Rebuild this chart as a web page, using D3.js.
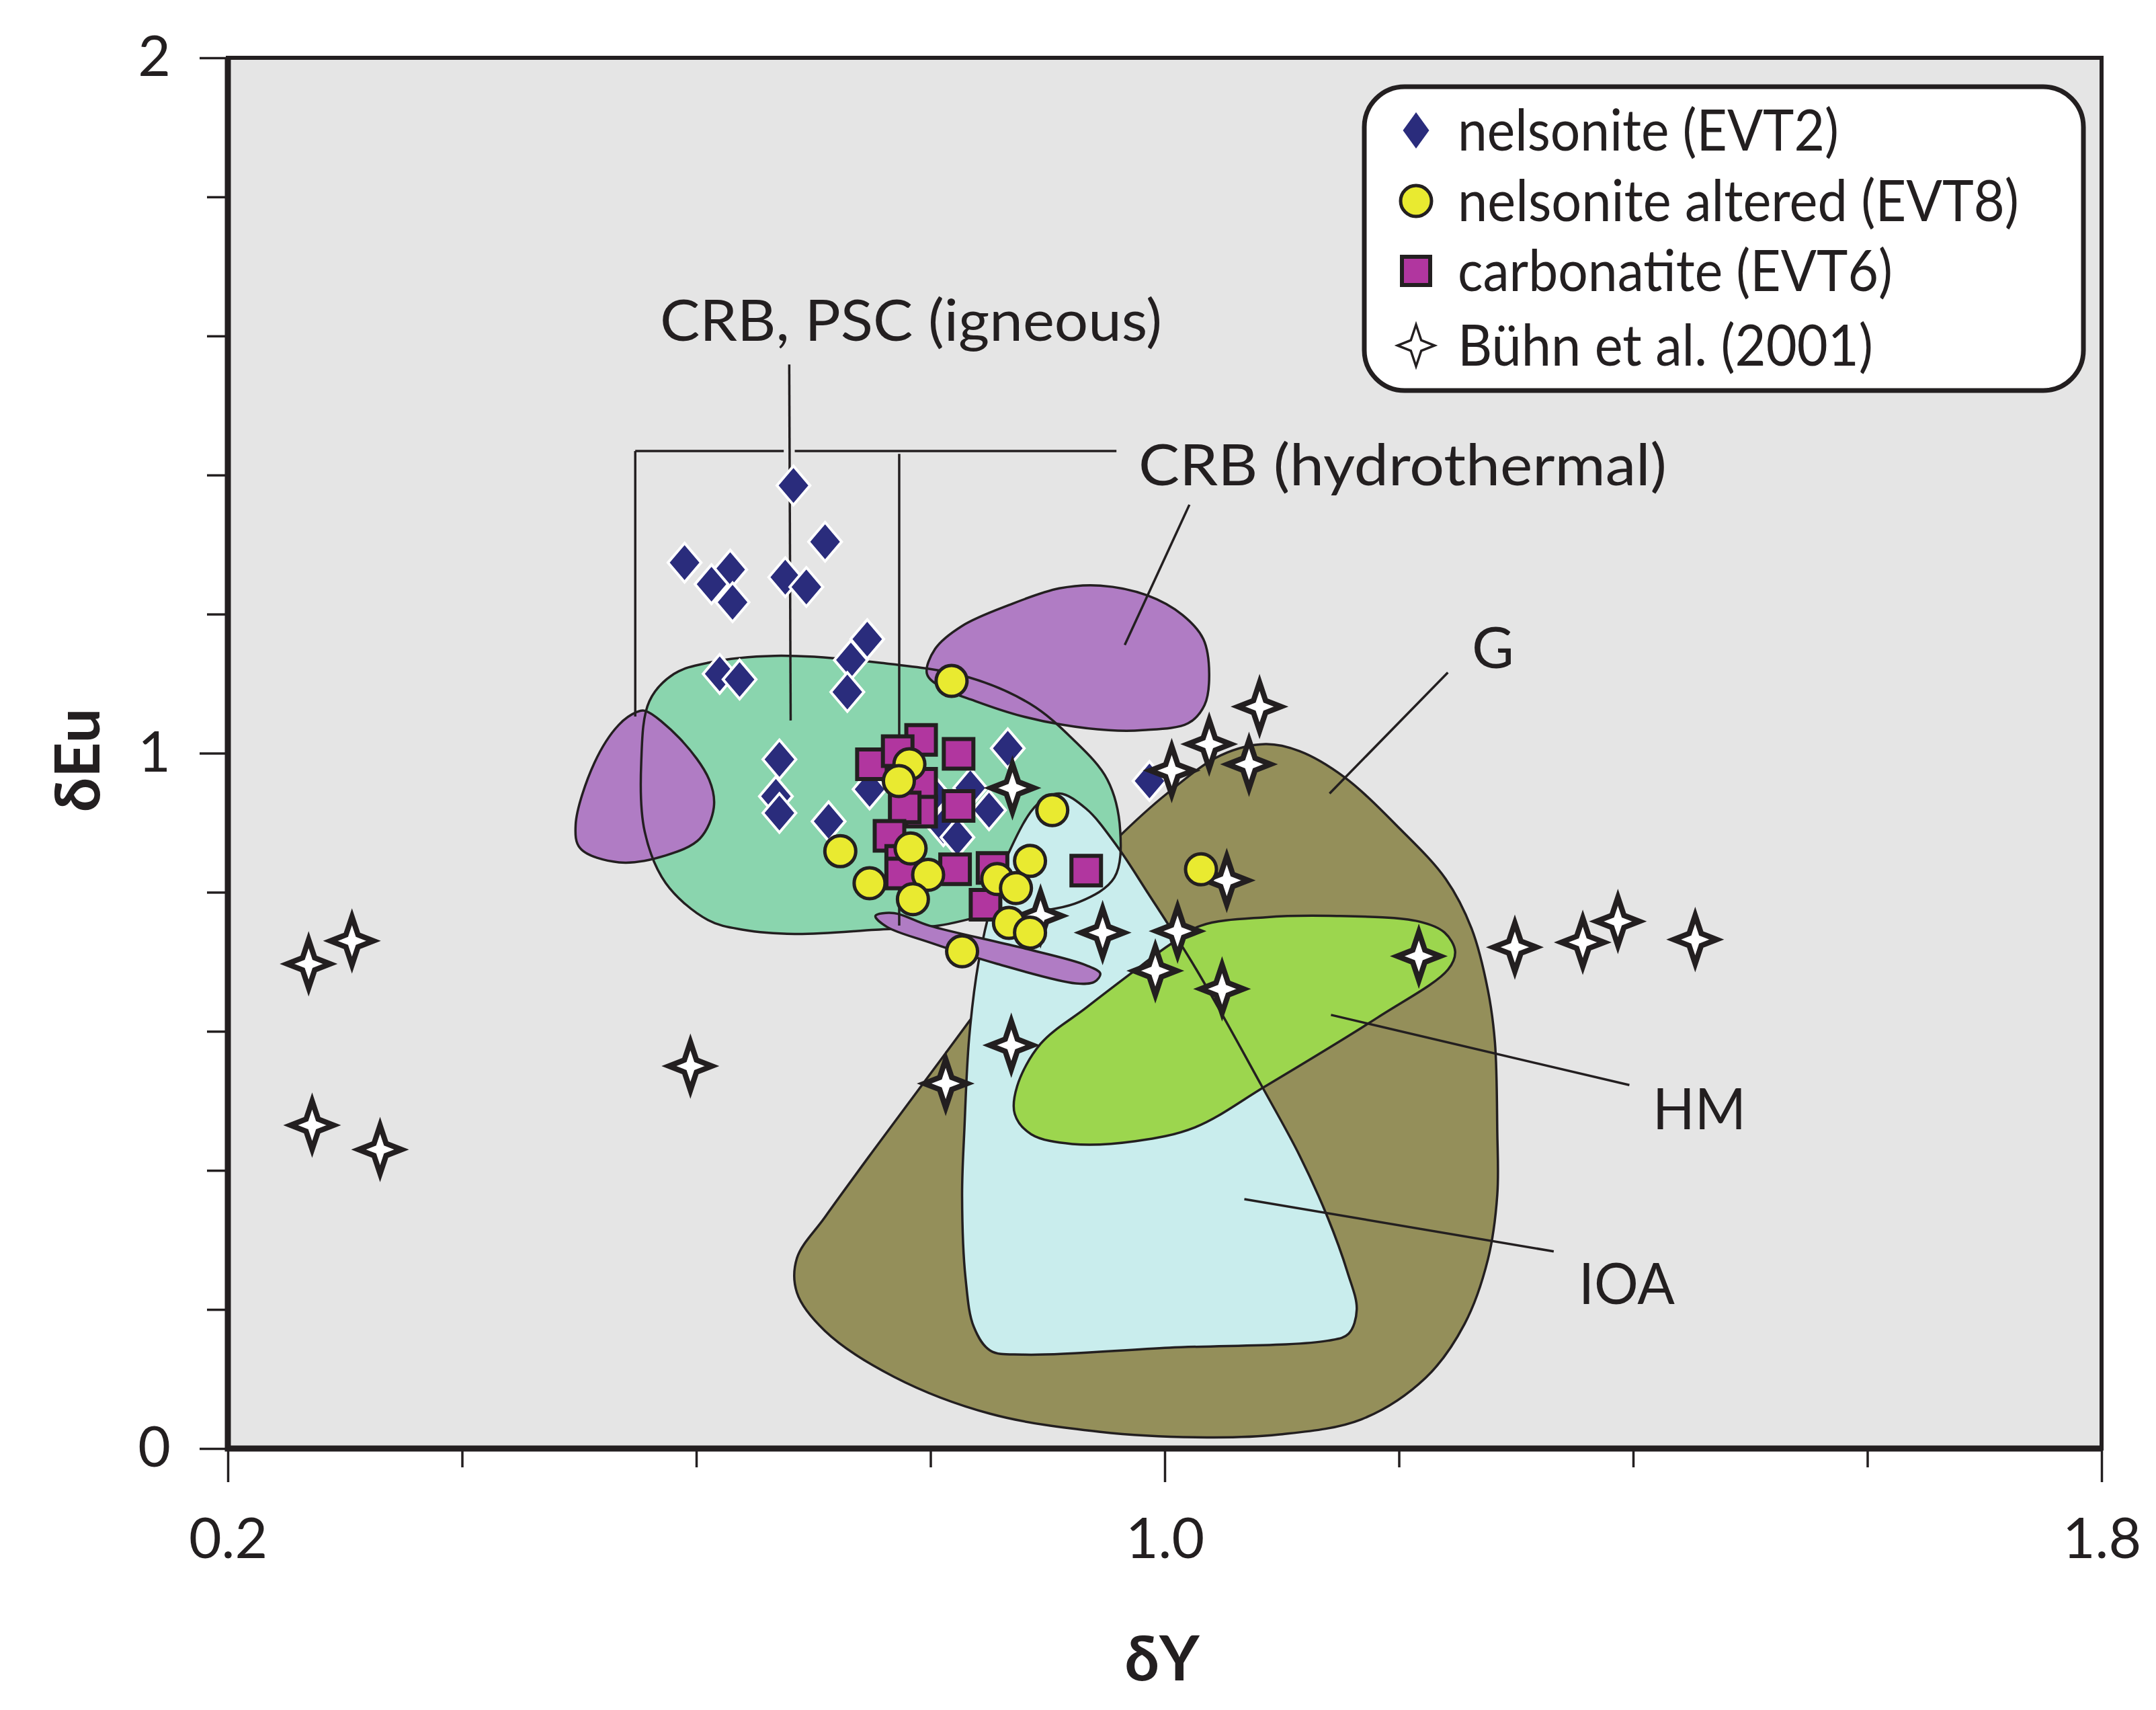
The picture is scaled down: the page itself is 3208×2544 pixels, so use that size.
<!DOCTYPE html>
<html><head><meta charset="utf-8">
<script src="https://cdn.jsdelivr.net/npm/d3@7"></script>
<style>html,body{margin:0;padding:0;background:#fff;} svg{display:block;}</style>
</head><body>
<svg id="chart" width="3208" height="2544"></svg>
<script>
// ---------------- DATA (δY, δEu) ----------------
const nelsoniteEVT2 = [
  [0.683,1.385],[0.710,1.304],[0.590,1.274],[0.629,1.264],[0.613,1.243],[0.676,1.253],
  [0.694,1.239],[0.631,1.217],[0.746,1.164],[0.732,1.134],[0.729,1.088],[0.620,1.114],
  [0.637,1.106],[0.671,0.991],[0.668,0.938],[0.671,0.914],[0.713,0.902],[0.866,1.007],
  [0.987,0.960],[0.748,0.948],[0.834,0.950],[0.850,0.918],[0.811,0.895],[0.823,0.879],
  [0.803,0.940]
];
const carbonatiteEVT6 = [
  [0.792,1.019],[0.824,0.999],[0.750,0.984],[0.772,1.003],[0.792,0.956],[0.824,0.924],
  [0.792,0.916],[0.778,0.922],[0.765,0.881],[0.775,0.845],[0.775,0.827],[0.821,0.833],
  [0.853,0.835],[0.847,0.782],[0.933,0.831]
];
const buhn2001 = [
  [0.269,0.697],[0.306,0.730],[0.272,0.465],[0.330,0.430],[0.595,0.550],[0.813,0.525],
  [0.869,0.580],[0.870,0.950],[0.894,0.766],[0.947,0.742],[1.011,0.744],[0.992,0.687],
  [1.049,0.661],[1.217,0.708],[1.081,1.067],[1.038,1.013],[1.006,0.975],[1.072,0.984],
  [1.053,0.817],[1.299,0.721],[1.357,0.728],[1.387,0.758],[1.453,0.732]
];
const nelsoniteAlteredEVT8 = [
  [0.818,1.104],[0.782,0.984],[0.773,0.960],[0.904,0.918],[0.723,0.859],[0.748,0.813],
  [0.783,0.863],[0.798,0.825],[0.785,0.790],[0.885,0.845],[0.857,0.819],[0.873,0.806],
  [0.867,0.756],[0.885,0.742],[0.827,0.715],[1.031,0.833]
];

// Field outlines (δY, δEu)
const fieldG = [
  [1.086,1.013],[1.115,1.003],[1.153,0.966],[1.201,0.891],[1.240,0.819],[1.262,0.748],
  [1.276,0.659],[1.282,0.584],[1.284,0.456],[1.284,0.365],[1.276,0.272],[1.256,0.179],
  [1.223,0.102],[1.168,0.042],[1.097,0.020],[1.036,0.016],[0.945,0.024],[0.851,0.050],
  [0.769,0.103],[0.710,0.169],[0.686,0.224],[0.686,0.274],[0.710,0.333],[0.751,0.428],
  [0.792,0.521],[0.832,0.612],[0.874,0.709],[0.915,0.798],[0.958,0.875],[1.002,0.942],
  [1.048,0.997]
];
const fieldIOA = [
  [0.891,0.926],[0.910,0.942],[0.933,0.920],[0.959,0.867],[0.986,0.798],[1.027,0.689],
  [1.083,0.521],[1.115,0.422],[1.139,0.333],[1.156,0.254],[1.164,0.200],[1.157,0.165],
  [1.139,0.155],[1.004,0.145],[0.880,0.135],[0.851,0.141],[0.837,0.175],[0.830,0.244],
  [0.827,0.363],[0.829,0.461],[0.833,0.590],[0.841,0.699],[0.853,0.788],[0.868,0.861]
];
const fieldHM = [
  [0.874,0.521],[0.894,0.582],[0.933,0.634],[0.971,0.683],[1.003,0.723],[1.031,0.752],
  [1.086,0.764],[1.141,0.766],[1.217,0.758],[1.239,0.742],[1.248,0.715],[1.242,0.689],
  [1.182,0.620],[1.086,0.521],[1.026,0.462],[0.975,0.442],[0.921,0.438],[0.886,0.452],
  [0.872,0.481]
];
const fieldCRBigneous = [
  [0.560,1.075],[0.581,1.114],[0.610,1.130],[0.667,1.140],[0.757,1.130],[0.831,1.110],
  [0.885,1.071],[0.921,1.021],[0.951,0.962],[0.962,0.889],[0.957,0.821],[0.927,0.786],
  [0.880,0.770],[0.847,0.766],[0.807,0.752],[0.753,0.746],[0.684,0.740],[0.640,0.746],
  [0.610,0.760],[0.574,0.813],[0.556,0.887],[0.553,0.986]
];
const fieldCRBhydroLeft = [
  [0.556,1.061],[0.586,1.021],[0.611,0.962],[0.615,0.922],[0.603,0.877],[0.574,0.853],
  [0.534,0.843],[0.501,0.863],[0.497,0.897],[0.513,0.986],[0.534,1.041],[0.549,1.059]
];
const fieldCRBhydroTop = [
  [0.797,1.114],[0.804,1.150],[0.827,1.183],[0.867,1.213],[0.910,1.237],[0.945,1.241],
  [0.985,1.227],[1.015,1.199],[1.033,1.164],[1.038,1.114],[1.034,1.069],[1.020,1.043],
  [0.981,1.033],[0.952,1.033],[0.912,1.041],[0.874,1.055],[0.838,1.075],[0.810,1.094]
];
const fieldCRBhydroThin = [
  [0.753,0.766],[0.769,0.770],[0.799,0.752],[0.876,0.721],[0.933,0.695],[0.945,0.683],
  [0.940,0.671],[0.924,0.669],[0.857,0.697],[0.799,0.728],[0.763,0.750]
];

// Leader lines (δY, δEu)
const leaderIgneousStem = [[0.6794,1.559],[0.6806,1.047]];
const leaderBracketLeft = [[0.5479,1.4344],[0.6747,1.4344]];
const leaderBracketRight = [[0.6841,1.4344],[0.9588,1.4344]];
const leaderDropLeft = [[0.5479,1.4344],[0.5479,1.0527]];
const leaderDropMid = [[0.7733,1.4305],[0.7733,0.7521]];
const leaderHydro = [[1.0211,1.3573],[0.9659,1.1556]];
const leaderG = [[1.2418,1.1160],[1.1408,0.9420]];
const leaderHM = [[1.1420,0.6236],[1.3968,0.5227]];
const leaderIOA = [[1.0680,0.3586],[1.3322,0.2835]];

// Axis ticks and labels
const xMajorTicks = [0.2, 1.0, 1.8];
const xMinorTicks = [0.4, 0.6, 0.8, 1.2, 1.4, 1.6];
const yMajorTicks = [0, 1, 2];
const yMinorTicks = [0.2, 0.4, 0.6, 0.8, 1.2, 1.4, 1.6, 1.8];
const legendLabels = ["nelsonite (EVT2)", "nelsonite altered (EVT8)", "carbonatite (EVT6)", "Bühn et al. (2001)"];
const fieldLabels = ["CRB, PSC (igneous)", "CRB (hydrothermal)", "G", "HM", "IOA"];

// ---------------- DRAWING ----------------
const INK = "#231f20";
const FONT = "Lato, 'Open Sans', sans-serif";
const svg = d3.select("#chart");
svg.append("rect").attr("width",3208).attr("height",2544).attr("fill","#fff");

const x = d3.scaleLinear().domain([0.2,1.8]).range([339,3127]);
const y = d3.scaleLinear().domain([0,2]).range([2155,86]);

svg.append("rect").attr("x",x(0.2)).attr("y",y(2)).attr("width",x(1.8)-x(0.2)).attr("height",y(0)-y(2)).attr("fill","#e5e5e5");

const closed = d3.line().x(d=>x(d[0])).y(d=>y(d[1])).curve(d3.curveCatmullRomClosed.alpha(0.5));
const straight = d3.line().x(d=>x(d[0])).y(d=>y(d[1]));
const g = svg.append("g");
function fill(pts, col){ g.append("path").attr("d",closed(pts)).attr("fill",col).attr("stroke","none"); }
function outline(pts){ g.append("path").attr("d",closed(pts)).attr("fill","none").attr("stroke",INK).attr("stroke-width",3.5); }

const cOlive="#948f5a", cGreen="#8ad5ae", cCyan="#c9eded", cLime="#9cd64e", cPurple="#b07cc4";
fill(fieldG,cOlive); outline(fieldG);
fill(fieldCRBigneous,cGreen);
fill(fieldIOA,cCyan);
fill(fieldHM,cLime);
outline(fieldIOA);
outline(fieldHM);
fill(fieldCRBhydroLeft,cPurple); outline(fieldCRBhydroLeft);
fill(fieldCRBhydroTop,cPurple); outline(fieldCRBhydroTop);
outline(fieldCRBigneous);
fill(fieldCRBhydroThin,cPurple); outline(fieldCRBhydroThin);

[leaderIgneousStem,leaderBracketLeft,leaderBracketRight,leaderDropLeft,leaderDropMid,leaderHydro,leaderG,leaderHM,leaderIOA]
  .forEach(l=>g.append("path").attr("d",straight(l)).attr("fill","none").attr("stroke",INK).attr("stroke-width",3.5));

// custom symbol types
const diamondType = {draw(ctx,size){const r=Math.sqrt(size), w=r*0.85; ctx.moveTo(0,-r); ctx.lineTo(w,0); ctx.lineTo(0,r); ctx.lineTo(-w,0); ctx.closePath();}};
const starType = {draw(ctx,size){const r=Math.sqrt(size), w=r*0.89, c=r*0.25;
  ctx.moveTo(0,-r); ctx.lineTo(c,-c); ctx.lineTo(w,0); ctx.lineTo(c,c); ctx.lineTo(0,r); ctx.lineTo(-c,c); ctx.lineTo(-w,0); ctx.lineTo(-c,-c); ctx.closePath();}};

const marks = svg.append("g");
function plot(data, type, size, f, s, sw){
  marks.append("g").selectAll("path").data(data).join("path")
    .attr("transform",d=>`translate(${x(d[0])},${y(d[1])})`)
    .attr("d",d3.symbol().type(type).size(size))
    .attr("fill",f).attr("stroke",s).attr("stroke-width",sw).attr("stroke-miterlimit",10);
}
plot(nelsoniteEVT2, diamondType, 29*29, "#2a2c7c", "#ffffff", 4);
plot(carbonatiteEVT6, d3.symbolSquare, 44*44, "#b1369f", INK, 6);
plot(buhn2001, starType, 36*36, "#ffffff", INK, 8);
plot(nelsoniteAlteredEVT8, d3.symbolCircle, Math.PI*23*23, "#e9ea30", INK, 5);

// field labels
const labelSpec = [
  {t:fieldLabels[0], x:982, y:507, len:747},
  {t:fieldLabels[1], x:1694, y:722, len:786},
  {t:fieldLabels[2], x:2190, y:994, len:0},
  {t:fieldLabels[3], x:2459, y:1680, len:139},
  {t:fieldLabels[4], x:2349, y:1940, len:143}
];
labelSpec.forEach(l=>{
  const t = svg.append("text").attr("x",l.x).attr("y",l.y).attr("font-family",FONT).attr("font-size",86).attr("fill",INK).text(l.t);
  if(l.len) t.attr("textLength",l.len).attr("lengthAdjust","spacingAndGlyphs");
});

// legend
const lg = svg.append("g");
lg.append("rect").attr("x",2030).attr("y",129).attr("width",1070).attr("height",452).attr("rx",60).attr("ry",60)
  .attr("fill","#fff").attr("stroke",INK).attr("stroke-width",7);
const legRows = [194, 299, 403, 514];
const legLens = [567, 835, 647, 618];
const legSyms = [
  {type:diamondType, size:27*27, f:"#2a2c7c", s:"none", sw:0, sx:0.85},
  {type:d3.symbolCircle, size:Math.PI*23*23, f:"#e9ea30", s:INK, sw:5, sx:1},
  {type:d3.symbolSquare, size:42*42, f:"#b1369f", s:INK, sw:6, sx:1},
  {type:starType, size:31*31, f:"#fff", s:INK, sw:3.5, sx:1}
];
legendLabels.forEach((lab,i)=>{
  const sy = legSyms[i];
  lg.append("path").attr("transform",`translate(2107,${legRows[i]}) scale(${sy.sx},1)`)
    .attr("d",d3.symbol().type(sy.type).size(sy.size)).attr("fill",sy.f).attr("stroke",sy.s).attr("stroke-width",sy.sw);
  lg.append("text").attr("x",2169).attr("y",legRows[i]+30).attr("font-family",FONT).attr("font-size",86).attr("fill",INK)
    .attr("textLength",legLens[i]).attr("lengthAdjust","spacingAndGlyphs").text(lab);
});

// axes
function styleAxis(sel){ sel.select(".domain").remove(); sel.selectAll(".tick line").attr("stroke",INK).attr("stroke-width",3.5);
  sel.selectAll("text").attr("font-family",FONT).attr("font-size",84).attr("fill",INK); }
svg.append("g").attr("transform",`translate(${x(0.2)},0)`).call(d3.axisLeft(y).tickValues(yMinorTicks).tickSize(31).tickFormat("")).call(styleAxis);
svg.append("g").attr("transform",`translate(${x(0.2)},0)`).call(d3.axisLeft(y).tickValues(yMajorTicks).tickSize(42).tickPadding(43).tickFormat(d3.format("d"))).call(styleAxis);
svg.append("g").attr("transform",`translate(0,${y(0)})`).call(d3.axisBottom(x).tickValues(xMinorTicks).tickSize(28).tickFormat("")).call(styleAxis);
const xa = svg.append("g").attr("transform",`translate(0,${y(0)})`).call(d3.axisBottom(x).tickValues(xMajorTicks).tickSize(50).tickFormat(d3.format(".1f"))).call(styleAxis);
xa.selectAll("text").attr("y",163).attr("dy",0);

// frame
svg.append("rect").attr("x",x(0.2)).attr("y",y(2)).attr("width",x(1.8)-x(0.2)).attr("height",y(0)-y(2)).attr("fill","none").attr("stroke",INK).attr("stroke-width",6);
svg.append("path").attr("d",`M${x(0.2)},${y(2)}V${y(0)}H${x(1.8)}`).attr("fill","none").attr("stroke",INK).attr("stroke-width",9);

// axis titles
svg.append("text").attr("x",1729).attr("y",2500).attr("text-anchor","middle").attr("font-family",FONT).attr("font-weight","bold").attr("font-size",92).attr("fill",INK).text("δY");
svg.append("text").attr("transform","translate(148,1131) rotate(-90)").attr("text-anchor","middle").attr("font-family",FONT).attr("font-weight","bold").attr("font-size",92).attr("fill",INK).text("δEu");
</script>
</body></html>
